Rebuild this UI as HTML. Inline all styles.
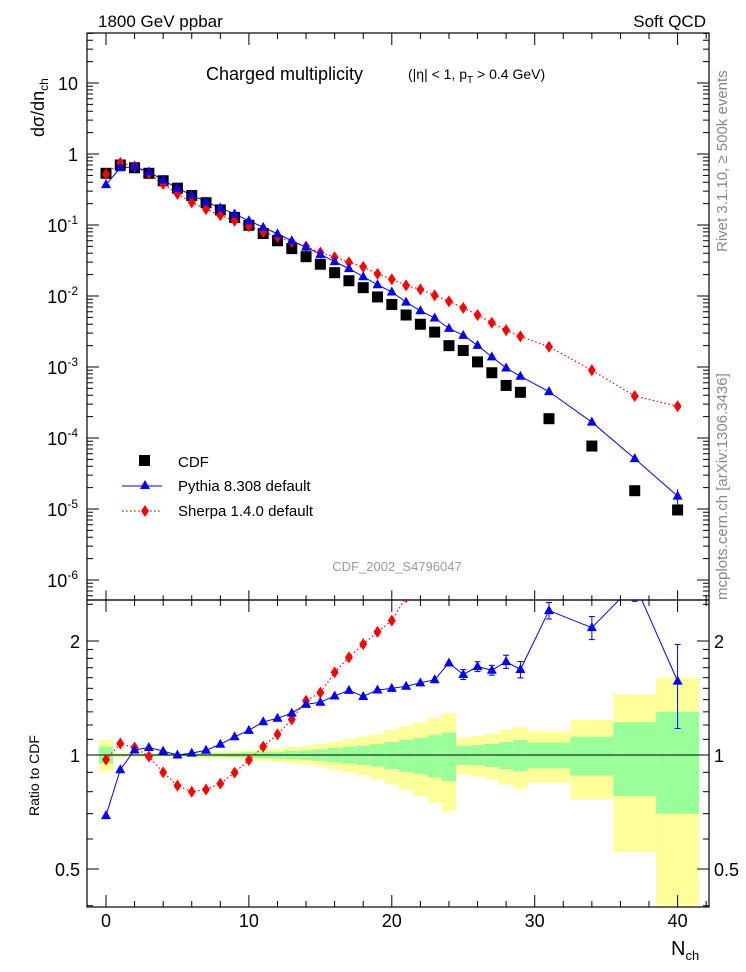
<!DOCTYPE html>
<html><head><meta charset="utf-8"><style>
html,body{margin:0;padding:0;background:#fff;}
svg{display:block;font-family:"Liberation Sans",sans-serif;}
</style></head><body>
<svg id="c" width="746" height="972" viewBox="0 0 746 972" xmlns="http://www.w3.org/2000/svg">
<defs>
<clipPath id="ct"><rect x="87" y="33" width="622" height="567"/></clipPath>
<clipPath id="cb"><rect x="87" y="600" width="622" height="307"/></clipPath>
</defs>
<g id="bands"></g>
<g id="grid"></g>
<g id="gt" clip-path="url(#ct)"></g>
<g id="gb" clip-path="url(#cb)"></g>
<g>
<text x="98" y="27" font-size="17">1800 GeV ppbar</text>
<text x="706" y="27" font-size="17" text-anchor="end">Soft QCD</text>
<text x="206" y="80" font-size="18">Charged multiplicity</text>
<text x="408" y="79" font-size="14">(|η| &lt; 1, p<tspan font-size="10" dy="4">T</tspan><tspan dy="-4"> &gt; 0.4 GeV)</tspan></text>
<text transform="translate(44,137) rotate(-90)" font-size="18">dσ/dn<tspan font-size="12" dy="4">ch</tspan></text>
<text transform="translate(39,816) rotate(-90)" font-size="14">Ratio to CDF</text>
<text x="671" y="955" font-size="20">N<tspan font-size="13" dy="5">ch</tspan></text>
<text transform="translate(727,252) rotate(-90)" font-size="15" fill="#888">Rivet 3.1.10, ≥ 500k events</text>
<text transform="translate(727,600) rotate(-90)" font-size="15" fill="#888">mcplots.cern.ch [arXiv:1306.3436]</text>
<text x="397" y="571" font-size="13" fill="#999" text-anchor="middle">CDF_2002_S4796047</text>
</g>
<g>
<rect x="139" y="455" width="11" height="11" fill="#000"/>
<text x="178" y="467" font-size="15">CDF</text>
<line x1="122" y1="486" x2="162" y2="486" stroke="#00f" stroke-width="1"/>
<polygon points="145,480 150,489 140,489" fill="#00f"/>
<text x="178" y="491" font-size="15">Pythia 8.308 default</text>
<line x1="122" y1="511" x2="162" y2="511" stroke="#f00" stroke-width="1.2" stroke-dasharray="1.5,2.5"/>
<polygon points="145,505 149,511 145,517 141,511" fill="#f00"/>
<text x="178" y="516" font-size="15">Sherpa 1.4.0 default</text>
</g>
</svg>
<script>
var nch = [0,1,2,3,4,5,6,7,8,9,10,11,12,13,14,15,16,17,18,19,20,21,22,23,24,25,26,27,28,29,31,34,37,40];
var binLo = [-0.5,0.5,1.5,2.5,3.5,4.5,5.5,6.5,7.5,8.5,9.5,10.5,11.5,12.5,13.5,14.5,15.5,16.5,17.5,18.5,19.5,20.5,21.5,22.5,23.5,24.5,25.5,26.5,27.5,28.5,29.5,32.5,35.5,38.5];
var binHi = [0.5,1.5,2.5,3.5,4.5,5.5,6.5,7.5,8.5,9.5,10.5,11.5,12.5,13.5,14.5,15.5,16.5,17.5,18.5,19.5,20.5,21.5,22.5,23.5,24.5,25.5,26.5,27.5,28.5,29.5,32.5,35.5,38.5,41.5];
var cdf = [0.535,0.70,0.64,0.535,0.42,0.33,0.26,0.206,0.163,0.128,0.099,0.076,0.060,0.0465,0.0358,0.028,0.0213,0.0164,0.0131,0.0097,0.0076,0.0054,0.0040,0.0031,0.0020,0.00171,0.00118,0.00083,0.00055,0.00044,0.000187,0.000077,0.0000181,0.0000097];
var pythia = [0.37,0.64,0.66,0.56,0.43,0.33,0.263,0.212,0.174,0.143,0.115,0.093,0.075,0.060,0.0487,0.0386,0.0305,0.0243,0.0187,0.0144,0.0114,0.0082,0.0062,0.0049,0.0035,0.00279,0.00202,0.00139,0.00097,0.00074,0.00045,0.000167,0.0000512,0.0000152];
var pythiaErr = [0,0,0,0,0,0,0,0,0,0,0,0,0,0,0,0,0,0,0,0,0,0,0,0,0,0.03,0.03,0.03,0.04,0.05,0.05,0.07,0.1,0.25];
var sherpa = [0.52,0.75,0.67,0.53,0.378,0.274,0.208,0.167,0.137,0.115,0.096,0.080,0.068,0.0577,0.0498,0.0409,0.0352,0.0297,0.0257,0.0205,0.0172,0.0141,0.0124,0.0102,0.0084,0.0068,0.0054,0.0042,0.0033,0.0027,0.00193,0.00090,0.00039,0.00028];
var yellowErr = [0.095,0.012,0.012,0.012,0.012,0.014,0.016,0.018,0.020,0.023,0.031,0.035,0.041,0.05,0.058,0.069,0.085,0.10,0.116,0.136,0.164,0.193,0.22,0.254,0.29,0.111,0.122,0.14,0.164,0.185,0.155,0.237,0.446,0.6];
var greenErr = [0.052,0.006,0.006,0.006,0.006,0.007,0.008,0.009,0.010,0.012,0.016,0.018,0.021,0.025,0.029,0.035,0.043,0.05,0.058,0.068,0.082,0.097,0.11,0.127,0.146,0.058,0.062,0.07,0.082,0.095,0.078,0.118,0.22,0.30];
var logTicks = [10,1,0.1,0.01,0.001,0.0001,0.00001,0.000001];
var logTickBase = ["10","1","10","10","10","10","10","10"];
var logTickExp = ["","","-1","-2","-3","-4","-5","-6"];
var xTicks = [0,10,20,30,40];
var ratioTicks = [0.5,1,2];

var NS = "http://www.w3.org/2000/svg";
var L = 87, R = 709, T = 33, M = 600, B = 907;
function X(n) { return 106 + 14.29 * n; }
function Y(v) { return 154 - 71 * Math.log(v) / Math.LN10; }
function YR(r) { return 755 - 114 * Math.log(r) / Math.LN2; }
function mk(parent, tag, attrs) {
  var el = document.createElementNS(NS, tag);
  for (var k in attrs) { el.setAttribute(k, attrs[k]); }
  document.getElementById(parent).appendChild(el);
  return el;
}
function tri(g, x, y) {
  return mk(g, 'polygon', {points: x + ',' + (y - 5.5) + ' ' + (x + 5) + ',' + (y + 3.5) + ' ' + (x - 5) + ',' + (y + 3.5), fill: '#00f'});
}
function dia(g, x, y) {
  return mk(g, 'polygon', {points: x + ',' + (y - 6) + ' ' + (x + 4) + ',' + y + ' ' + x + ',' + (y + 6) + ' ' + (x - 4) + ',' + y, fill: '#f00'});
}
var el, i, n, y, x, len, t;

// bands
for (i = 0; i < nch.length; i++) {
  var x1 = X(binLo[i]), x2 = X(binHi[i]);
  var yt = YR(1 + yellowErr[i]), yb = Math.min(YR(1 - yellowErr[i]), B);
  el = mk('bands', 'rect', {x: x1, y: yt, width: x2 - x1, height: yb - yt, fill: '#ffff99'});
  
  
  yt = YR(1 + greenErr[i]); yb = YR(1 - greenErr[i]);
  el = mk('bands', 'rect', {x: x1, y: yt, width: x2 - x1, height: yb - yt, fill: '#99ff99'});
  
  
}
mk('bands', 'line', {x1: X(-0.5), x2: X(41.5), y1: YR(1), y2: YR(1), stroke: '#000', 'stroke-width': 1});

// frames
mk('grid', 'rect', {x: L, y: T, width: R - L, height: M - T, fill: 'none', stroke: '#000', 'stroke-width': 1.2});
mk('grid', 'rect', {x: L, y: M, width: R - L, height: B - M, fill: 'none', stroke: '#000', 'stroke-width': 1.2});

// log ticks
for (var d = -7; d <= 1; d++) {
  for (var k = 1; k <= 9; k++) {
    y = Y(k * Math.pow(10, d));
    if (y < T || y > M) continue;
    len = (k == 1) ? 12 : 6;
    mk('grid', 'line', {x1: L, x2: L + len, y1: y, y2: y, stroke: '#000'});
    mk('grid', 'line', {x1: R, x2: R - len, y1: y, y2: y, stroke: '#000'});
  }
}
for (i = 0; i < logTicks.length; i++) {
  y = Y(logTicks[i]);
  if (logTickExp[i] === "") {
    t = mk('grid', 'text', {x: 78, y: y + 7, 'font-size': 18, 'text-anchor': 'end'});
    t.textContent = logTickBase[i];
  } else {
    t = mk('grid', 'text', {x: 78, y: y + 7, 'font-size': 18, 'text-anchor': 'end'});
    var b = document.createElementNS(NS, 'tspan');
    b.textContent = logTickBase[i];
    var s = document.createElementNS(NS, 'tspan');
    s.setAttribute('font-size', '12');
    s.setAttribute('dy', '-8');
    s.textContent = logTickExp[i];
    t.appendChild(b); t.appendChild(s);
  }
  
  
}

// x ticks
var rows = [[B, -1, 1], [M, -1, 0.8], [M, 1, 1], [T, 1, 1]];
for (n = -1; n <= 42; n++) {
  x = X(n);
  if (x < L || x > R) continue;
  len = (n % 10 == 0) ? 12 : ((n % 2 == 0) ? 6 : 0);
  if (!len) continue;
  for (var r = 0; r < rows.length; r++) {
    mk('grid', 'line', {x1: x, x2: x, y1: rows[r][0], y2: rows[r][0] + rows[r][1] * len * rows[r][2], stroke: '#000'});
  }
}
for (i = 0; i < xTicks.length; i++) {
  t = mk('grid', 'text', {x: X(xTicks[i]), y: 927, 'font-size': 18, 'text-anchor': 'middle'});
  t.textContent = xTicks[i];
  
  
}

// ratio ticks
var rminor = [0.4,0.5,0.6,0.7,0.8,0.9,1,1.1,1.2,1.3,1.4,1.5,1.6,1.7,1.8,1.9,2,2.5];
for (i = 0; i < rminor.length; i++) {
  y = YR(rminor[i]);
  if (y < M || y > B) continue;
  len = (rminor[i] == 0.5 || rminor[i] == 1 || rminor[i] == 2) ? 12 : 6;
  mk('grid', 'line', {x1: L, x2: L + len, y1: y, y2: y, stroke: '#000'});
  mk('grid', 'line', {x1: R, x2: R - len, y1: y, y2: y, stroke: '#000'});
}
for (i = 0; i < ratioTicks.length; i++) {
  t = mk('grid', 'text', {x: 80, y: YR(ratioTicks[i]) + 7, 'font-size': 18, 'text-anchor': 'end'});
  t.textContent = ratioTicks[i];
  
  
  t = mk('grid', 'text', {x: 714, y: YR(ratioTicks[i]) + 7, 'font-size': 18});
  t.textContent = ratioTicks[i];
  
  
}

// main panel
var ps = [], pp = [], rs = [], rp = [];
for (i = 0; i < nch.length; i++) {
  ps.push(X(nch[i]) + ',' + Y(sherpa[i]));
  pp.push(X(nch[i]) + ',' + Y(pythia[i]));
  rs.push(X(nch[i]) + ',' + YR(sherpa[i] / cdf[i]));
  rp.push(X(nch[i]) + ',' + YR(pythia[i] / cdf[i]));
}
el = mk('gt', 'polyline', {points: ps.join(' '), fill: 'none', stroke: '#f00', 'stroke-width': 1.2, 'stroke-dasharray': '1.5,2.5'});


el = mk('gt', 'polyline', {points: pp.join(' '), fill: 'none', stroke: '#00f', 'stroke-width': 1});


for (i = 0; i < nch.length; i++) {
  x = X(nch[i]);
  el = mk('gt', 'rect', {x: x - 5.5, y: Y(cdf[i]) - 5.5, width: 11, height: 11, fill: '#000'});
  
  
  el = dia('gt', x, Y(sherpa[i]));
  
  
  el = tri('gt', x, Y(pythia[i]));
  
  
  if (pythiaErr[i] > 0.1) {
    mk('gt', 'line', {x1: x, x2: x, y1: Y(pythia[i] * (1 + pythiaErr[i])), y2: Y(pythia[i] * (1 - pythiaErr[i])), stroke: '#00f'});
  }
}

// ratio panel
el = mk('gb', 'polyline', {points: rs.join(' '), fill: 'none', stroke: '#f00', 'stroke-width': 1.2, 'stroke-dasharray': '1.5,2.5'});


el = mk('gb', 'polyline', {points: rp.join(' '), fill: 'none', stroke: '#00f', 'stroke-width': 1});


for (i = 0; i < nch.length; i++) {
  x = X(nch[i]);
  var rsv = sherpa[i] / cdf[i], rpv = pythia[i] / cdf[i];
  el = dia('gb', x, YR(rsv));
  
  
  if (pythiaErr[i] > 0) {
    var ya = YR(rpv * (1 + pythiaErr[i])), yc = YR(rpv * (1 - pythiaErr[i]));
    mk('gb', 'line', {x1: x, x2: x, y1: ya, y2: yc, stroke: '#00f'});
    mk('gb', 'line', {x1: x - 3, x2: x + 3, y1: ya, y2: ya, stroke: '#00f'});
    mk('gb', 'line', {x1: x - 3, x2: x + 3, y1: yc, y2: yc, stroke: '#00f'});
  }
  el = tri('gb', x, YR(rpv));
  
  
}
</script>
</body></html>
